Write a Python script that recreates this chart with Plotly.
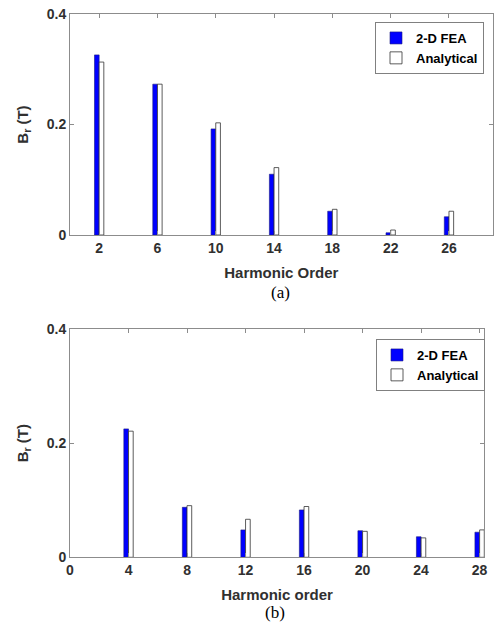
import plotly.graph_objects as go

# ---- data ----
orders_a = [2, 6, 10, 14, 18, 22, 26]
fea_a = [0.326, 0.273, 0.192, 0.110, 0.043, 0.004, 0.033]
ana_a = [0.313, 0.273, 0.203, 0.122, 0.0465, 0.009, 0.043]

orders_b = [4, 8, 12, 16, 20, 24, 28]
fea_b = [0.225, 0.0876, 0.048, 0.083, 0.0466, 0.036, 0.044]
ana_b = [0.221, 0.0905, 0.0666, 0.089, 0.0455, 0.034, 0.048]

yticks = [0, 0.2, 0.4]
ytick_labels = ["0", "0.2", "0.4"]

W, H = 496, 627
TXT = "#303030"
AX = "#8c8c8c"
BLUE = "#0000ff"

fig = go.Figure()

bw = 0.32
fig.add_trace(go.Bar(x=orders_a, y=fea_a, name="2-D FEA", width=bw, offset=-bw,
                     marker=dict(color=BLUE, line=dict(color="#1a1a80", width=0.6)),
                     xaxis="x", yaxis="y", legend="legend"))
fig.add_trace(go.Bar(x=orders_a, y=ana_a, name="Analytical", width=bw, offset=0,
                     marker=dict(color="white", line=dict(color="#333333", width=0.8)),
                     xaxis="x", yaxis="y", legend="legend"))
fig.add_trace(go.Bar(x=orders_b, y=fea_b, name="2-D FEA", width=bw, offset=-bw,
                     marker=dict(color=BLUE, line=dict(color="#1a1a80", width=0.6)),
                     xaxis="x2", yaxis="y2", legend="legend2"))
fig.add_trace(go.Bar(x=orders_b, y=ana_b, name="Analytical", width=bw, offset=0,
                     marker=dict(color="white", line=dict(color="#333333", width=0.8)),
                     xaxis="x2", yaxis="y2", legend="legend2"))

tickfont = dict(family="Liberation Sans, Arial", size=14, color=TXT, weight="bold")
titlefont = dict(family="Liberation Sans, Arial", size=15, color=TXT, weight="bold")

def xax(domain, rng, tickvals, title, anchor):
    return dict(domain=domain, range=rng, tickvals=tickvals, ticktext=[str(t) for t in tickvals],
                showgrid=False, zeroline=False, showline=True, linecolor=AX, linewidth=1,
                mirror="ticks", ticks="inside", ticklen=4, tickcolor=AX,
                tickfont=tickfont, title=dict(text=title, font=titlefont, standoff=12),
                anchor=anchor, fixedrange=True, automargin=False)

def yax(domain, anchor):
    return dict(domain=domain, range=[0, 0.4], tickvals=yticks, ticktext=ytick_labels,
                showgrid=False, zeroline=False, showline=True, linecolor=AX, linewidth=1,
                mirror="ticks", ticks="inside", ticklen=4, tickcolor=AX,
                tickfont=tickfont, title=dict(text="B<sub>r</sub> (T)", font=titlefont, standoff=14),
                anchor=anchor, fixedrange=True, automargin=False)

legfont = dict(family="Liberation Sans, Arial", size=13, color="black", weight="bold")

fig.update_layout(
    width=W, height=H, margin=dict(l=0, r=0, t=0, b=0, autoexpand=False),
    paper_bgcolor="white", plot_bgcolor="white",
    barmode="overlay", showlegend=True,
    xaxis=xax([70 / W, 492.7 / W], [0, 29], orders_a, "Harmonic Order", "y"),
    yaxis=yax([1 - 235 / H, 1 - 14 / H], "x"),
    xaxis2=xax([70 / W, 484 / W], [0, 28.3], [0] + orders_b, "Harmonic order", "y2"),
    yaxis2=yax([1 - 557.3 / H, 1 - 329 / H], "x2"),
    legend=dict(x=484 / W, y=1 - 22 / H, xanchor="right", yanchor="top",
                bgcolor="white", bordercolor="#808080", borderwidth=1,
                font=legfont, tracegroupgap=0, itemwidth=30),
    legend2=dict(x=485 / W, y=1 - 339 / H, xanchor="right", yanchor="top",
                 bgcolor="white", bordercolor="#808080", borderwidth=1,
                 font=legfont, tracegroupgap=0, itemwidth=30),
    annotations=[
        dict(text="(a)", x=0.565, y=1 - 292 / H, xref="paper", yref="paper", showarrow=False,
             xanchor="center", yanchor="middle",
             font=dict(family="Liberation Serif, Times New Roman", size=17, color="black")),
        dict(text="(b)", x=0.555, y=1 - 612 / H, xref="paper", yref="paper", showarrow=False,
             xanchor="center", yanchor="middle",
             font=dict(family="Liberation Serif, Times New Roman", size=17, color="black")),
    ],
)

fig.write_html("out.html")
